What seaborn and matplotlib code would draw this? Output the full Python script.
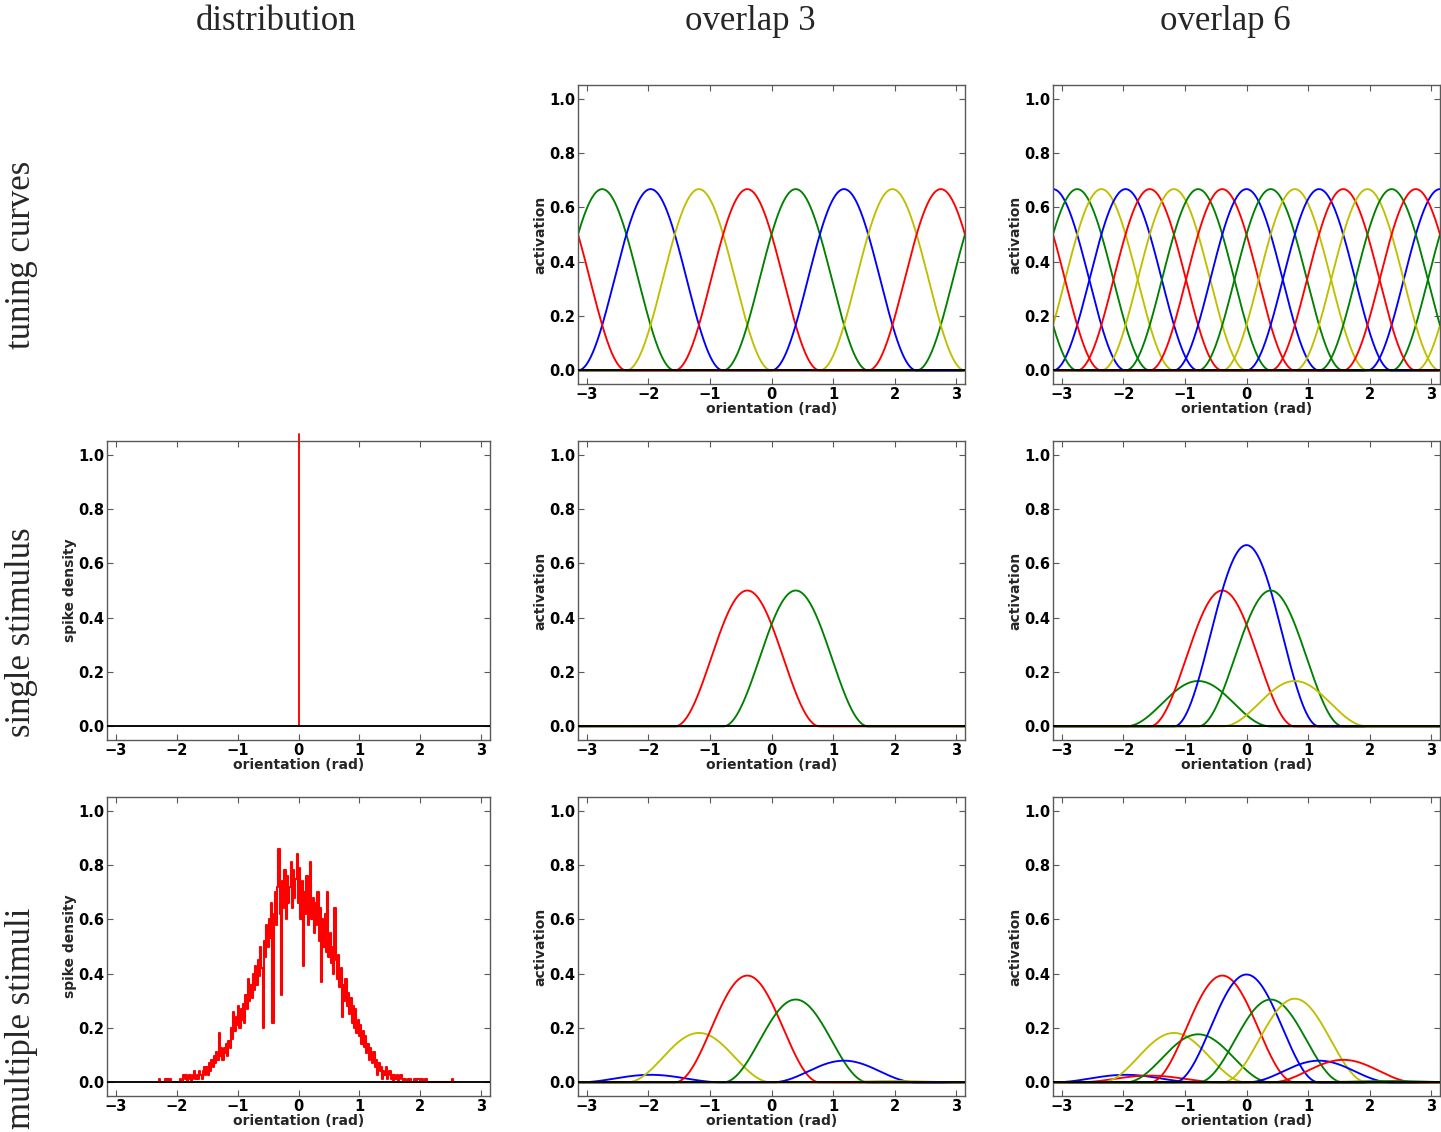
"""
Population coding figure: tuning curves of two banks of orientation units
(overlap 3 and overlap 6) and their responses to a single stimulus and to a
broad distribution of stimuli.
"""

import matplotlib
matplotlib.use("Agg")
import matplotlib.pyplot as plt
import numpy as np
import seaborn as sns

col_titles = ["distribution", "overlap 3", "overlap 6"]
row_titles = ["tuning curves", "single stimulus", "multiple stimuli"]

# unit preferred orientations, colours and peak activations
o3_centers = [-2.749, -1.963, -1.178, -0.393, 0.393, 1.178, 1.963, 2.749]
o3_colors = ["g", "b", "y", "r", "g", "b", "y", "r"]
o3_tuning = [0.667, 0.667, 0.667, 0.667, 0.667, 0.667, 0.667, 0.667]
o3_single = [0.0, 0.0, 0.0, 0.5, 0.5, 0.0, 0.0, 0.0]
o3_multi = [0.0, 0.028, 0.182, 0.393, 0.305, 0.08, 0.005, 0.0]

o6_centers = [-3.142, -2.749, -2.356, -1.963, -1.571, -1.178, -0.785, -0.393,
              0.0, 0.393, 0.785, 1.178, 1.571, 1.963, 2.356, 2.749]
o6_colors = ["b", "g", "y", "b", "r", "y", "g", "r",
             "b", "g", "y", "b", "r", "y", "g", "r"]
o6_tuning = [0.667] * 16
o6_single = [0.0, 0.0, 0.0, 0.0, 0.0, 0.0, 0.167, 0.5,
             0.667, 0.5, 0.167, 0.0, 0.0, 0.0, 0.0, 0.0]
o6_multi = [0.0, 0.0, 0.0, 0.028, 0.025, 0.182, 0.177, 0.393,
            0.397, 0.305, 0.308, 0.08, 0.083, 0.004, 0.005, 0.0]

# half width of the raised-cosine tuning curve (rad)
half_width = 1.178

# single stimulus: one spike of density at orientation 0
single_x = [0.0, 0.0]
single_y = [0.0, 1.075]

# multiple stimuli: spike density histogram, bins from -2.30 in steps of 0.02
hist_start = -2.30
hist_step = 0.02
hist_vals = [
    0, 0.014, 0, 0, 0, 0, 0.014, 0, 0.014, 0,
    0.014, 0, 0, 0, 0, 0, 0, 0, 0.014, 0,
    0, 0.028, 0.014, 0.028, 0, 0.014, 0.028, 0, 0.014, 0.028,
    0.042, 0.014, 0.028, 0.014, 0.042, 0.028, 0.014, 0.042, 0.056, 0.028,
    0.056, 0.028, 0.07, 0.042, 0.084, 0.056, 0.098, 0.07, 0.112, 0.084,
    0.18, 0.098, 0.126, 0.084, 0.126, 0.11, 0.14, 0.098, 0.154, 0.126,
    0.20, 0.16, 0.26, 0.19, 0.24, 0.21, 0.28, 0.20, 0.27, 0.23,
    0.29, 0.22, 0.32, 0.27, 0.38, 0.30, 0.36, 0.31, 0.40, 0.34,
    0.43, 0.36, 0.45, 0.39, 0.50, 0.42, 0.20, 0.52, 0.46, 0.58,
    0.50, 0.60, 0.53, 0.66, 0.22, 0.62, 0.70, 0.58, 0.72, 0.86,
    0.62, 0.32, 0.74, 0.64, 0.78, 0.60, 0.76, 0.66, 0.72, 0.81,
    0.64, 0.78, 0.68, 0.75, 0.84, 0.66, 0.79, 0.60, 0.74, 0.43,
    0.70, 0.62, 0.76, 0.58, 0.72, 0.81, 0.60, 0.68, 0.55, 0.66,
    0.58, 0.70, 0.52, 0.64, 0.37, 0.60, 0.50, 0.62, 0.48, 0.70,
    0.46, 0.55, 0.44, 0.50, 0.40, 0.64, 0.45, 0.38, 0.47, 0.35,
    0.42, 0.24, 0.36, 0.30, 0.38, 0.28, 0.33, 0.25, 0.31, 0.22,
    0.28, 0.20, 0.27, 0.18, 0.23, 0.17, 0.21, 0.14, 0.19, 0.13,
    0.17, 0.11, 0.14, 0.084, 0.126, 0.098, 0.07, 0.112, 0.056, 0.084,
    0.028, 0.07, 0.042, 0.056, 0.014, 0.042, 0.028, 0.056, 0.014, 0.028,
    0.042, 0.014, 0.028, 0, 0.028, 0.014, 0.028, 0, 0.014, 0.028,
    0.014, 0, 0.014, 0.014, 0, 0.014, 0, 0.014, 0, 0,
    0.014, 0.014, 0, 0.014, 0.014, 0, 0.014, 0.014, 0, 0.014,
    0.014, 0, 0, 0, 0, 0, 0, 0, 0, 0,
    0, 0, 0, 0, 0, 0, 0, 0, 0, 0,
    0, 0.014, 0, 0,
]

COLORS = {"b": (0, 0, 1), "g": (0, 0.5, 0), "r": (1, 0, 0), "y": (0.75, 0.75, 0)}
LW = 1.35

sns.set_style("ticks", {"xtick.direction": "in", "ytick.direction": "in",
                        "axes.edgecolor": "0.35"})
plt.rcParams["font.family"] = ["DejaVu Sans"]
plt.rcParams["font.weight"] = "bold"
plt.rcParams["axes.labelweight"] = "bold"


def bump(x, center, amp):
    # raised cosine on the circle
    d = np.angle(np.exp(1j * (x - center)))
    y = amp * (1 + np.cos(np.pi * d / half_width)) / 2
    y[np.abs(d) > half_width] = 0
    return y


def style_axis(ax, ylabel):
    ax.set_xlim(-np.pi, np.pi)
    ax.set_ylim(-0.05, 1.05)
    ax.set_xticks(range(-3, 4))
    ax.set_yticks([0.0, 0.2, 0.4, 0.6, 0.8, 1.0])
    ax.tick_params(top=True, right=True, length=4, width=0.8, colors="0.35",
                   labelcolor="k", labelsize=10.5, pad=2)
    for s in ax.spines.values():
        s.set_visible(True)
        s.set_linewidth(1.0)
    ax.set_xlabel("orientation (rad)", fontsize=10, labelpad=0)
    ax.set_ylabel(ylabel, fontsize=10, labelpad=1)
    ax.axhline(0, color="k", lw=LW, zorder=5)


def draw_curves(ax, centers, amps, colors):
    xs = np.linspace(-np.pi, np.pi, 600)
    for c, a, col in zip(centers, amps, colors):
        if a <= 0:
            continue
        sns.lineplot(x=xs, y=bump(xs, c, a), color=COLORS[col], lw=LW,
                     estimator=None, ax=ax)


def main():
    W, H = 1441, 1132
    fig = plt.figure(figsize=(W / 100, H / 100), dpi=100)
    lefts = [107, 578, 1053]
    widths = [383, 387, 387]
    tops = [85, 441, 797]
    height = 299

    axes = [[None] * 3 for _ in range(3)]
    for r in range(3):
        for c in range(3):
            if r == 0 and c == 0:
                continue
            rect = [lefts[c] / W, 1 - (tops[r] + height) / H,
                    widths[c] / W, height / H]
            axes[r][c] = fig.add_axes(rect)

    # distribution column
    ax = axes[1][0]
    sns.lineplot(x=single_x, y=single_y, color=COLORS["r"], lw=LW,
                 estimator=None, ax=ax, clip_on=False)
    style_axis(ax, "spike density")

    ax = axes[2][0]
    hist_x = hist_start + hist_step * np.arange(len(hist_vals))
    sns.lineplot(x=hist_x, y=hist_vals, color=COLORS["r"], lw=1.5,
                 drawstyle="steps-mid", estimator=None, ax=ax)
    style_axis(ax, "spike density")

    # overlap columns
    banks = [
        (o3_centers, o3_colors, [o3_tuning, o3_single, o3_multi]),
        (o6_centers, o6_colors, [o6_tuning, o6_single, o6_multi]),
    ]
    for c, (centers, colors, rows) in enumerate(banks, start=1):
        for r, amps in enumerate(rows):
            ax = axes[r][c]
            draw_curves(ax, centers, amps, colors)
            style_axis(ax, "activation")

    # column and row titles
    title_x = [276, 750, 1225]
    for t, x in zip(col_titles, title_x):
        fig.text(x / W, 1 - 30 / H, t, ha="center", va="baseline",
                 fontsize=25, family="Liberation Serif", weight="normal")
    row_y = [255, 632, 1018]
    for t, y in zip(row_titles, row_y):
        fig.text(22 / W, 1 - y / H, t, ha="center", va="center", rotation=90,
                 fontsize=25, family="Liberation Serif", weight="normal")

    fig.savefig("out.png", dpi=100)


if __name__ == "__main__":
    main()
